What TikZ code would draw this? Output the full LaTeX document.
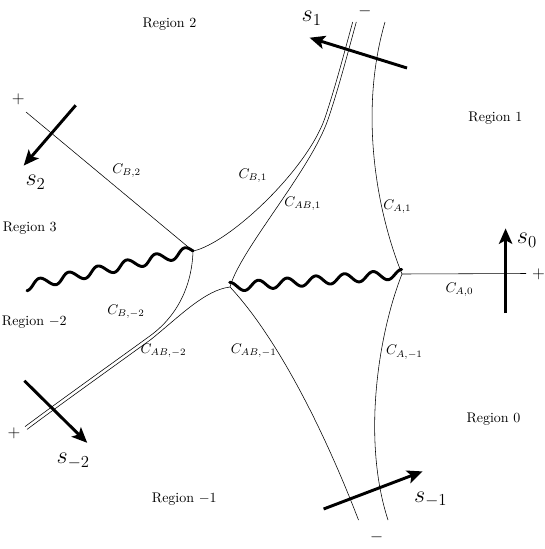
\documentclass[tikz,border=0pt]{standalone}
\usetikzlibrary{arrows.meta}
\begin{document}
\begin{tikzpicture}[x=0.715pt,y=-0.715pt,
  curve/.style={line width=0.4pt},
  wave/.style={line width=2.1pt, line join=round, line cap=round},
  sarrow/.style={line width=2.1pt, -{Stealth[length=11pt,width=9.5pt,inset=2.5pt]}},
  lab/.style={inner sep=0pt},
  slab/.style={inner sep=0pt, font=\LARGE},
  sign/.style={inner sep=0pt, font=\large}]
\useasboundingbox (0,0) rectangle (545,549);
% junctions and ends
\coordinate (B) at (193,251);
\coordinate (AB) at (230,287);
\coordinate (A) at (402,274);
\coordinate (wL) at (26,286);
\coordinate (eB2) at (26,112);
\coordinate (eA0) at (526,273.5);
\coordinate (eA1) at (385,22);
\coordinate (eAm1) at (388,520);
\coordinate (eABm1) at (358.5,520);
% top double line
\coordinate (JB1) at (324.2,120);
\coordinate (JAB1) at (327.8,120);
\coordinate (eB1) at (352.7,22);
\coordinate (eAB1) at (356.3,22);
% bottom-left double line
\coordinate (JBm2) at (149,336.6);
\coordinate (JABm2) at (151,339.4);
\coordinate (eBm2) at (25,426.6);
\coordinate (eABm2) at (27,429.4);
% curves
\draw[curve] (B) -- (eB2);
\draw[curve] (A) -- (eA0);
\draw[curve] (A) .. controls (378,215) and (358,115) .. (eA1);
\draw[curve] (A) .. controls (378,335) and (362,440) .. (eAm1);
\draw[curve] (AB) .. controls (275,335) and (322,425) .. (eABm1);
\draw[curve] (B) .. controls (228,244) and (305,172) .. (JB1)
   .. controls ++(11,-32) and ++(-7.5,27) .. (eB1);
\draw[curve] (AB) .. controls (240,250) and (310,171) .. (JAB1)
   .. controls ++(11,-32) and ++(-7.5,27) .. (eAB1);
\draw[curve] (B) .. controls (192,285) and (178,316) .. (JBm2)
   .. controls ++(-40,29) and ++(39,-29) .. (eBm2);
\draw[curve] (AB) .. controls (205,290) and (180,316) .. (JABm2)
   .. controls ++(-40,29) and ++(39,-29) .. (eABm2);
% branch cuts (wavy)
\begin{scope}[shift={(wL)}, rotate=11.84]
  \draw[wave] plot[domain=0:170.63, samples=220, smooth] (\x, {4.8*cos(12.1316*\x)});
\end{scope}
\begin{scope}[shift={(AB)}, rotate=4.32]
  \draw[wave] plot[domain=0:172.49, samples=220, smooth] (\x, {-4.6*cos(12.5225*\x)});
\end{scope}
% arrows
\coordinate (t1) at (407,68); \coordinate (h1) at (309.6,37.7);
\coordinate (t2) at (75.7,105.3); \coordinate (h2) at (23.7,165.6);
\coordinate (t0) at (505.6,313); \coordinate (h0) at (505.6,228.4);
\coordinate (tm2) at (24.4,380.8); \coordinate (hm2) at (87.2,442.8);
\coordinate (tm1) at (323.6,509); \coordinate (hm1) at (422.6,471.4);
\draw[sarrow] (t1) -- (h1);
\draw[sarrow] (t2) -- (h2);
\draw[sarrow] (t0) -- (h0);
\draw[sarrow] (tm2) -- (hm2);
\draw[sarrow] (tm1) -- (hm1);
\node[slab] (s1) at (311.7,18.3) {$s_1$};
\node[slab] (s2) at (35.6,182.4) {$s_2$};
\node[slab] (s0) at (527,240) {$s_0$};
\node[slab] (sm2) at (73.2,461) {$s_{-2}$};
\node[slab] (sm1) at (430.8,499.5) {$s_{-1}$};
% signs
\node[sign] (p1) at (18.3,99.3) {$+$};
\node[sign] (m1) at (365,11) {$-$};
\node[sign] (p2) at (538.5,274.4) {$+$};
\node[sign] (p3) at (14,433) {$+$};
\node[sign] (m2) at (376.7,537) {$-$};
% regions
\node[lab] (r2) at (169.5,24.5) {Region 2};
\node[lab] (r1) at (495.4,118.5) {Region 1};
\node[lab] (r3) at (29.8,228) {Region 3};
\node[lab] (rm2) at (34.3,321.7) {Region $-2$};
\node[lab] (r0) at (493.5,418.9) {Region 0};
\node[lab] (rm1) at (184.3,499.5) {Region $-1$};
% curve labels
\node[lab] (lB2) at (126.7,171) {$C_{B,2}$};
\node[lab] (lB1) at (252.8,176) {$C_{B,1}$};
\node[lab] (lAB1) at (302.8,204) {$C_{AB,1}$};
\node[lab] (lA1) at (397.5,206.5) {$C_{A,1}$};
\node[lab] (lA0) at (459.5,290) {$C_{A,0}$};
\node[lab] (lBm2) at (126,312) {$C_{B,-2}$};
\node[lab] (lABm2) at (163.5,350.5) {$C_{AB,-2}$};
\node[lab] (lABm1) at (253.7,350.5) {$C_{AB,-1}$};
\node[lab] (lAm1) at (404.4,352.2) {$C_{A,-1}$};
\end{tikzpicture}
\end{document}
